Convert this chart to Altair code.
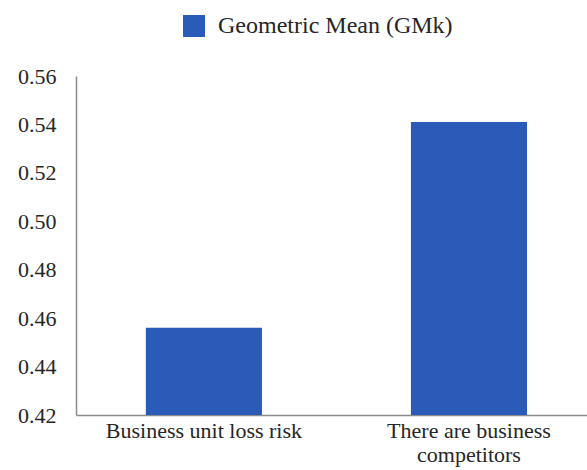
import altair as alt
import pandas as pd

# Factor names, their geometric means and the series name
categories = ["Business unit loss risk", "There are business competitors"]
values = [0.456, 0.541]
series = "Geometric Mean (GMk)"
y_ticks = [0.42, 0.44, 0.46, 0.48, 0.50, 0.52, 0.54, 0.56]
y_floor = 0.42

# Multi-line forms of the category labels
wrapped = {
    "Business unit loss risk": ["Business unit loss risk"],
    "There are business competitors": ["There are business", "competitors"],
}

df = pd.DataFrame({"factor": categories, "gm": values, "series": series})

label_expr = " : ".join(
    f"datum.label == '{k}' ? {v!r}" for k, v in wrapped.items()
) + " : datum.label"

FONT = "'Liberation Serif', 'Times New Roman', 'DejaVu Serif', serif"
BAR = "#2b5bb8"
TEXT = "#262626"
AXIS = "#8c8c8c"

chart = (
    alt.Chart(df)
    .mark_bar(color=BAR, clip=True)
    .encode(
        x=alt.X(
            "factor:N",
            sort=categories,
            scale=alt.Scale(paddingInner=0.562, paddingOuter=0.245, align=0.538),
            axis=alt.Axis(
                title=None,
                labelAngle=0,
                labelExpr=label_expr,
                labelFont=FONT,
                labelFontSize=22,
                labelColor=TEXT,
                labelBaseline="top",
                labelLineHeight=24,
                labelPadding=5,
                labelLimit=0,
                ticks=False,
                domainColor=AXIS,
                domainWidth=1.5,
            ),
        ),
        y=alt.Y(
            "gm:Q",
            scale=alt.Scale(domain=[0.42, 0.56], zero=False, nice=False),
            axis=alt.Axis(
                title=None,
                values=y_ticks,
                format=".2f",
                grid=False,
                ticks=False,
                labelFont=FONT,
                labelFontSize=22,
                labelColor=TEXT,
                labelPadding=20,
                domainColor=AXIS,
                domainWidth=1.5,
            ),
        ),
        y2=alt.datum(y_floor),
        color=alt.Color(
            "series:N",
            scale=alt.Scale(range=[BAR]),
            legend=alt.Legend(
                title=None,
                orient="none",
                legendX=106,
                legendY=-62,
                symbolType="square",
                symbolSize=484,
                symbolStrokeWidth=0,
                symbolOpacity=1,
                labelFont=FONT,
                labelFontSize=24,
                labelColor=TEXT,
                labelOffset=12,
                labelLimit=0,
            ),
        ),
    )
    .properties(
        width=511,
        height=339,
        autosize=alt.AutoSizeParams(type="none"),
        padding={"left": 76, "top": 76, "right": 0, "bottom": 55},
        background="white",
    )
    .configure_view(stroke=None)
)

chart.save("out.html", embed_options={"renderer": "svg", "actions": False})
